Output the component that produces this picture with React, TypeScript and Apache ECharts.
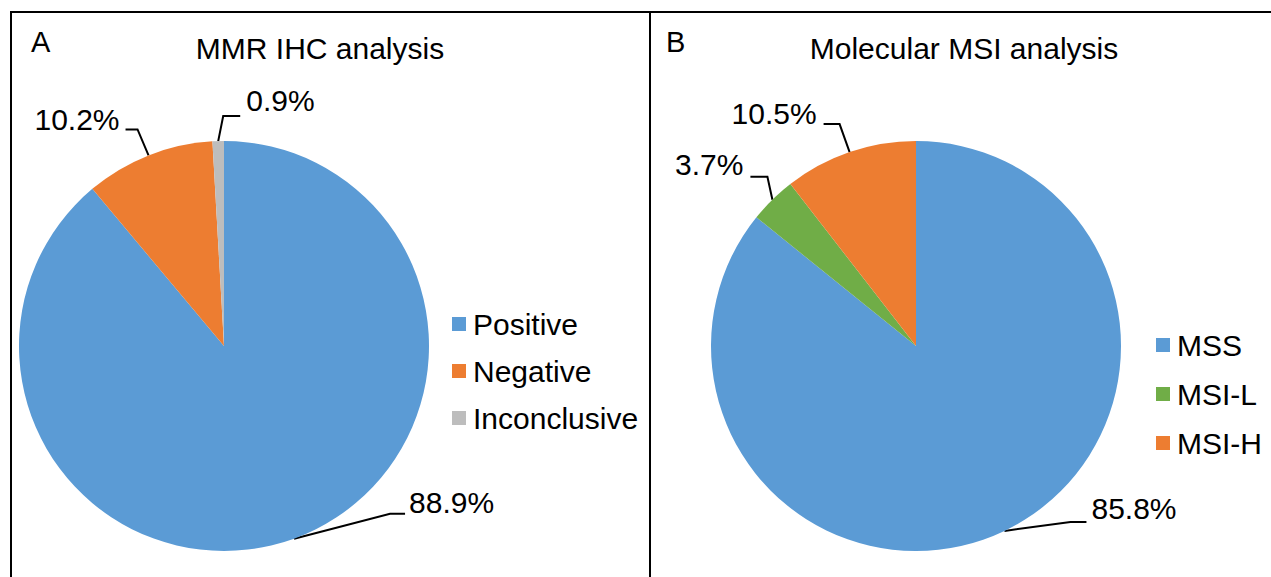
import React, { useEffect, useRef } from "react";
import * as echarts from "echarts";

const categoriesA = ["Positive", "Negative", "Inconclusive"];
const valuesA = [88.9, 10.2, 0.9];
const categoriesB = ["MSS", "MSI-L", "MSI-H"];
const valuesB = [85.8, 3.7, 10.5];
const titleA = "MMR IHC analysis";
const titleB = "Molecular MSI analysis";

const colorsA = ["#5B9BD5", "#ED7D31", "#BDBDBD"];
const colorsB = ["#5B9BD5", "#70AD47", "#ED7D31"];

const FONT = "'Liberation Sans', Arial, Helvetica, sans-serif";
const R = 205;
const centerA = [224, 346];
const centerB = [916, 346];

// leader-line geometry, offsets from the slice's outer mid-point
const leadersA = [
  { elbow: [96, -25], end: [111, -25], label: [115, -36], align: "left" },
  { elbow: [-11, -26], end: [-23, -26], label: [-29, -36], align: "right" },
  { elbow: [5, -25], end: [22, -25], label: [28, -41], align: "left" },
];
const leadersB = [
  { elbow: [66, -9], end: [82, -9], label: [87, -22], align: "left" },
  { elbow: [-5, -23], end: [-22, -23], label: [-29, -35], align: "right" },
  { elbow: [-10, -28], end: [-26, -28], label: [-33, -39], align: "right" },
];

function edgePoint(values: number[], i: number, c: number[], r: number) {
  const total = values.reduce((a, b) => a + b, 0);
  let cum = 0;
  for (let k = 0; k < i; k++) cum += values[k];
  const a = ((cum + values[i] / 2) / total) * Math.PI * 2;
  return [c[0] + r * Math.sin(a), c[1] - r * Math.cos(a)];
}

function makeLayout(values: number[], c: number[], leaders: any[]) {
  return (params: any) => {
    const i = params.dataIndex;
    const p = edgePoint(values, i, c, R);
    const L = leaders[i];
    return {
      x: p[0] + L.label[0],
      y: p[1] + L.label[1],
      align: L.align,
      verticalAlign: "middle",
      labelLinePoints: [
        [p[0], p[1]],
        [p[0] + L.elbow[0], p[1] + L.elbow[1]],
        [p[0] + L.end[0], p[1] + L.end[1]],
      ],
    };
  };
}

function pieSeries(cats: string[], vals: number[], colors: string[], c: number[], leaders: any[]) {
  return {
    type: "pie",
    center: c,
    radius: R,
    startAngle: 90,
    clockwise: true,
    avoidLabelOverlap: false,
    silent: true,
    data: cats.map((n, i) => ({ name: n, value: vals[i], itemStyle: { color: colors[i] } })),
    label: {
      show: true,
      position: "outside",
      formatter: (p: any) => p.value.toFixed(1) + "%",
      color: "#000",
      fontSize: 30,
      fontFamily: FONT,
    },
    labelLine: { show: true, lineStyle: { color: "#000", width: 2 } },
    labelLayout: makeLayout(vals, c, leaders),
    itemStyle: { borderWidth: 0 },
    emphasis: { disabled: true },
  };
}

export default function App() {
  const ref = useRef<HTMLDivElement>(null);
  useEffect(() => {
    if (!ref.current) return;
    const chart = echarts.init(ref.current, undefined, { renderer: "svg" });
    const legendBase = {
      orient: "vertical",
      icon: "rect",
      padding: 0,
      itemWidth: 14,
      itemHeight: 14,
      itemGap: 17,
      textStyle: { fontSize: 30, fontFamily: FONT, color: "#000", padding: [0, 0, 0, 2] },
      selectedMode: false,
    };
    chart.setOption({
      animation: false,
      backgroundColor: "#fff",
      legend: [
        { ...legendBase, data: categoriesA, left: 452, top: 309 },
        { ...legendBase, data: categoriesB, left: 1156, top: 330, itemGap: 19 },
      ],
      series: [
        pieSeries(categoriesA, valuesA, colorsA, centerA, leadersA),
        pieSeries(categoriesB, valuesB, colorsB, centerB, leadersB),
      ],
      graphic: [
        { type: "line", shape: { x1: 10, y1: 12, x2: 1271, y2: 12 }, style: { stroke: "#000", lineWidth: 2 } },
        { type: "line", shape: { x1: 11, y1: 11, x2: 11, y2: 577 }, style: { stroke: "#000", lineWidth: 2 } },
        { type: "line", shape: { x1: 650, y1: 11, x2: 650, y2: 577 }, style: { stroke: "#000", lineWidth: 2 } },
        { type: "text", x: 31, y: 42, style: { text: "A", fontSize: 29, fontFamily: FONT, fill: "#000", verticalAlign: "middle" } },
        { type: "text", x: 666, y: 42, style: { text: "B", fontSize: 29, fontFamily: FONT, fill: "#000", verticalAlign: "middle" } },
        { type: "text", x: 320, y: 48, style: { text: titleA, fontSize: 30, fontFamily: FONT, fill: "#000", align: "center", verticalAlign: "middle" } },
        { type: "text", x: 964, y: 48, style: { text: titleB, fontSize: 30, fontFamily: FONT, fill: "#000", align: "center", verticalAlign: "middle" } },
      ],
    });
    return () => chart.dispose();
  }, []);
  return (
    <div
      ref={ref}
      style={{ position: "fixed", left: 0, top: 0, width: 1271, height: 577 }}
    />
  );
}
